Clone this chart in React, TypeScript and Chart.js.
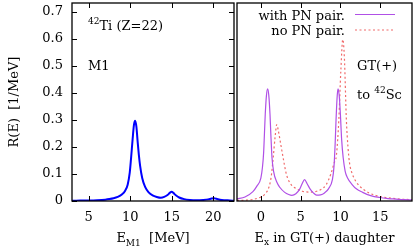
import { useEffect, useRef } from "react";
import { Chart, registerables } from "chart.js";
Chart.register(...registerables);

// ---- data ----
const m1Energy = [3, 4, 5, 6, 7, 7.5, 8, 8.5, 9, 9.4, 9.7, 9.95, 10.1, 10.3, 10.45, 10.6, 10.75, 10.9, 11.05, 11.2, 11.45, 11.8, 12.2, 12.7, 13.2, 13.7, 14.1, 14.5, 14.8, 15.0, 15.2, 15.5, 15.9, 16.5, 17.2, 18, 18.8, 19.4, 19.8, 20.1, 20.4, 20.8, 21.3, 22, 22.5];
const m1Strength = [0.001, 0.0015, 0.002, 0.003, 0.005, 0.007, 0.01, 0.015, 0.024, 0.038, 0.06, 0.105, 0.155, 0.23, 0.28, 0.297, 0.275, 0.22, 0.17, 0.13, 0.085, 0.052, 0.033, 0.021, 0.015, 0.012, 0.015, 0.022, 0.031, 0.034, 0.03, 0.021, 0.013, 0.007, 0.004, 0.003, 0.004, 0.006, 0.009, 0.01, 0.008, 0.005, 0.003, 0.002, 0.001];

const gtExWith = [-3, -2, -1, -0.5, 0, 0.2, 0.35, 0.45, 0.55, 0.7, 0.85, 1.0, 1.15, 1.25, 1.4, 1.6, 2.0, 2.4, 3.0, 3.5, 3.9, 4.4, 4.9, 5.2, 5.5, 5.8, 6.2, 6.6, 7.0, 7.5, 8.0, 8.5, 9.0, 9.2, 9.35, 9.45, 9.6, 9.7, 9.85, 10.0, 10.15, 10.35, 10.6, 10.9, 11.5, 12.0, 12.8, 13.8, 14.9, 16, 17, 18, 19];
const gtWithPair = [0.008, 0.015, 0.035, 0.055, 0.085, 0.125, 0.18, 0.25, 0.32, 0.39, 0.415, 0.39, 0.32, 0.25, 0.16, 0.11, 0.07, 0.05, 0.032, 0.024, 0.021, 0.027, 0.045, 0.065, 0.079, 0.065, 0.044, 0.03, 0.022, 0.023, 0.03, 0.045, 0.08, 0.13, 0.22, 0.3, 0.39, 0.415, 0.39, 0.32, 0.23, 0.16, 0.11, 0.085, 0.06, 0.045, 0.032, 0.02, 0.013, 0.009, 0.007, 0.005, 0.004];

const gtExNo = [-3, -2, -1, 0, 0.5, 1.0, 1.3, 1.55, 1.8, 2.0, 2.2, 2.5, 2.8, 3.2, 3.7, 4.5, 5.2, 6.2, 7.0, 7.5, 8.2, 8.8, 9.2, 9.5, 9.8, 10.05, 10.3, 10.5, 10.75, 10.95, 11.15, 11.5, 12.0, 12.8, 13.6, 14.5, 15.7, 16.5, 17.5, 18.3, 19];
const gtNoPair = [0.002, 0.003, 0.006, 0.015, 0.025, 0.05, 0.09, 0.16, 0.24, 0.283, 0.26, 0.21, 0.16, 0.1, 0.065, 0.045, 0.036, 0.033, 0.036, 0.042, 0.06, 0.1, 0.14, 0.17, 0.3, 0.48, 0.598, 0.53, 0.3, 0.2, 0.14, 0.1, 0.07, 0.045, 0.03, 0.02, 0.013, 0.01, 0.007, 0.006, 0.005];

const leftXTicks = [5, 10, 15, 20];
const rightXTicks = [0, 5, 10, 15];
const yTickValues = [0, 0.1, 0.2, 0.3, 0.4, 0.5, 0.6, 0.7];
const yTickLabels = ["0", "0.1", "0.2", "0.3", "0.4", "0.5", "0.6", "0.7"];

const legendLabels = ["with PN pair.", "no PN pair."];

const FAMILY = '"DejaVu Serif", serif';
const FS = 13;
const SUB = 9;

type Part = { t: string; size: number; dy: number };

function drawRich(ctx: CanvasRenderingContext2D, parts: Part[], x: number, y: number, align: "left" | "center" | "right") {
  let total = 0;
  const widths = parts.map((p) => {
    ctx.font = `${p.size}px ${FAMILY}`;
    const w = ctx.measureText(p.t).width;
    total += w;
    return w;
  });
  let cx = align === "left" ? x : align === "center" ? x - total / 2 : x - total;
  ctx.textAlign = "left";
  ctx.textBaseline = "alphabetic";
  parts.forEach((p, i) => {
    ctx.font = `${p.size}px ${FAMILY}`;
    ctx.fillText(p.t, cx, y + p.dy);
    cx += widths[i];
  });
}

function framePlugin(yTicks: boolean, drawTexts: (ctx: CanvasRenderingContext2D, a: any) => void) {
  return {
    id: "frame",
    afterDraw(chart: any) {
      const { ctx, chartArea: a, scales } = chart;
      ctx.save();
      ctx.strokeStyle = "#000";
      ctx.lineWidth = 1;
      const xs = scales.x;
      for (const t of xs.ticks) {
        const px = Math.round(xs.getPixelForValue(t.value)) + 0.5;
        ctx.beginPath();
        ctx.moveTo(px, a.bottom);
        ctx.lineTo(px, a.bottom - 5);
        ctx.moveTo(px, a.top);
        ctx.lineTo(px, a.top + 5);
        ctx.stroke();
      }
      if (yTicks) {
        const ys = scales.y;
        for (const t of ys.ticks) {
          const py = Math.round(ys.getPixelForValue(t.value)) + 0.5;
          ctx.beginPath();
          ctx.moveTo(a.left, py);
          ctx.lineTo(a.left + 5, py);
          ctx.moveTo(a.right, py);
          ctx.lineTo(a.right - 5, py);
          ctx.stroke();
        }
      }
      ctx.lineWidth = 1.3;
      ctx.strokeRect(a.left, a.top, a.right - a.left, a.bottom - a.top);
      ctx.fillStyle = "#000";
      drawTexts(ctx, a);
      ctx.restore();
    },
  };
}

function baseScales(xmin: number, xmax: number, xt: number[], showY: boolean, yWidth: number) {
  return {
    x: {
      type: "linear",
      min: xmin,
      max: xmax,
      grid: { display: false, drawTicks: false },
      border: { display: false },
      ticks: { color: "#000", font: { family: FAMILY, size: FS }, padding: 9, autoSkip: false, maxRotation: 0 },
      afterBuildTicks: (s: any) => {
        s.ticks = xt.map((v) => ({ value: v }));
      },
      afterFit: (s: any) => {
        s.height = 48;
        s.paddingLeft = 0;
        s.paddingRight = 0;
      },
    },
    y: {
      type: "linear",
      min: 0,
      max: 0.733,
      display: showY,
      grid: { display: false, drawTicks: false },
      border: { display: false },
      title: {
        display: showY,
        text: "R(E)  [1/MeV]",
        color: "#000",
        font: { family: FAMILY, size: FS },
        padding: { top: 7, bottom: 0 },
      },
      ticks: {
        color: "#000",
        font: { family: FAMILY, size: FS },
        padding: 9,
        autoSkip: false,
        callback: (v: number) => {
          const i = yTickValues.findIndex((t) => Math.abs(t - v) < 1e-9);
          return i >= 0 ? yTickLabels[i] : "";
        },
      },
      afterBuildTicks: (s: any) => {
        s.ticks = yTickValues.map((v) => ({ value: v }));
      },
      afterFit: (s: any) => {
        s.width = yWidth;
        s.paddingTop = 0;
        s.paddingBottom = 0;
      },
    },
  };
}

function toPts(xs: number[], ys: number[]) {
  return xs.map((x, i) => ({ x, y: ys[i] }));
}

export default function App() {
  const leftRef = useRef<HTMLCanvasElement>(null);
  const rightRef = useRef<HTMLCanvasElement>(null);

  useEffect(() => {
    const left = new Chart(leftRef.current as HTMLCanvasElement, {
      type: "line",
      data: {
        datasets: [
          {
            data: toPts(m1Energy, m1Strength),
            borderColor: "#0000ff",
            borderWidth: 2,
            pointRadius: 0,
            cubicInterpolationMode: "monotone",
            fill: false,
          },
        ],
      },
      options: {
        animation: false,
        responsive: false,
        maintainAspectRatio: false,
        layout: { padding: { top: 3, right: 2, left: 0, bottom: 0 } },
        plugins: { legend: { display: false }, tooltip: { enabled: false } },
        scales: baseScales(3, 22.5, leftXTicks, true, 72) as any,
      },
      plugins: [
        framePlugin(true, (ctx, a) => {
          drawRich(ctx, [{ t: "42", size: SUB, dy: -6 }, { t: "Ti (Z=22)", size: FS, dy: 0 }], 88, 29.5, "left");
          drawRich(ctx, [{ t: "M1", size: FS, dy: 0 }], 88, 70, "left");
          drawRich(
            ctx,
            [
              { t: "E", size: FS, dy: 0 },
              { t: "M1", size: SUB, dy: 4 },
              { t: "  [MeV]", size: FS, dy: 0 },
            ],
            (a.left + a.right) / 2,
            241.5,
            "center"
          );
        }) as any,
      ],
    });

    const right = new Chart(rightRef.current as HTMLCanvasElement, {
      type: "line",
      data: {
        datasets: [
          {
            data: toPts(gtExWith, gtWithPair),
            borderColor: "#b050e6",
            borderWidth: 1.2,
            pointRadius: 0,
            cubicInterpolationMode: "monotone",
            fill: false,
          },
          {
            data: toPts(gtExNo, gtNoPair),
            borderColor: "#f06a6a",
            borderWidth: 1.2,
            borderDash: [2, 2.5],
            pointRadius: 0,
            cubicInterpolationMode: "monotone",
            fill: false,
          },
        ],
      },
      options: {
        animation: false,
        responsive: false,
        maintainAspectRatio: false,
        layout: { padding: { top: 3, right: 3, left: 1, bottom: 0 } },
        plugins: { legend: { display: false }, tooltip: { enabled: false } },
        scales: baseScales(-3, 19, rightXTicks, false, 0) as any,
      },
      plugins: [
        framePlugin(false, (ctx, a) => {
          const off = -236;
          // legend
          drawRich(ctx, [{ t: legendLabels[0], size: FS, dy: 0 }], 345 + off, 20, "right");
          drawRich(ctx, [{ t: legendLabels[1], size: FS, dy: 0 }], 345 + off, 35, "right");
          ctx.lineWidth = 1.2;
          ctx.strokeStyle = "#b050e6";
          ctx.beginPath();
          ctx.moveTo(355 + off, 14.5);
          ctx.lineTo(395 + off, 14.5);
          ctx.stroke();
          ctx.strokeStyle = "#f06a6a";
          ctx.setLineDash([2, 2.5]);
          ctx.beginPath();
          ctx.moveTo(355 + off, 30);
          ctx.lineTo(395 + off, 30);
          ctx.stroke();
          ctx.setLineDash([]);
          drawRich(ctx, [{ t: "GT(+)", size: FS, dy: 0 }], 357 + off, 70, "left");
          drawRich(
            ctx,
            [
              { t: "to ", size: FS, dy: 0 },
              { t: "42", size: SUB, dy: -6 },
              { t: "Sc", size: FS, dy: 0 },
            ],
            357 + off,
            99,
            "left"
          );
          drawRich(
            ctx,
            [
              { t: "E", size: FS, dy: 0 },
              { t: "x", size: SUB, dy: 3 },
              { t: " in GT(+) daughter", size: FS, dy: 0 },
            ],
            (a.left + a.right) / 2,
            241.5,
            "center"
          );
        }) as any,
      ],
    });

    return () => {
      left.destroy();
      right.destroy();
    };
  }, []);

  return (
    <div style={{ position: "fixed", left: 0, top: 0, width: 415, height: 249, background: "#fff" }}>
      <canvas ref={leftRef} width={236} height={249} style={{ position: "absolute", left: 0, top: 0, width: 236, height: 249 }} />
      <canvas ref={rightRef} width={179} height={249} style={{ position: "absolute", left: 236, top: 0, width: 179, height: 249 }} />
    </div>
  );
}
